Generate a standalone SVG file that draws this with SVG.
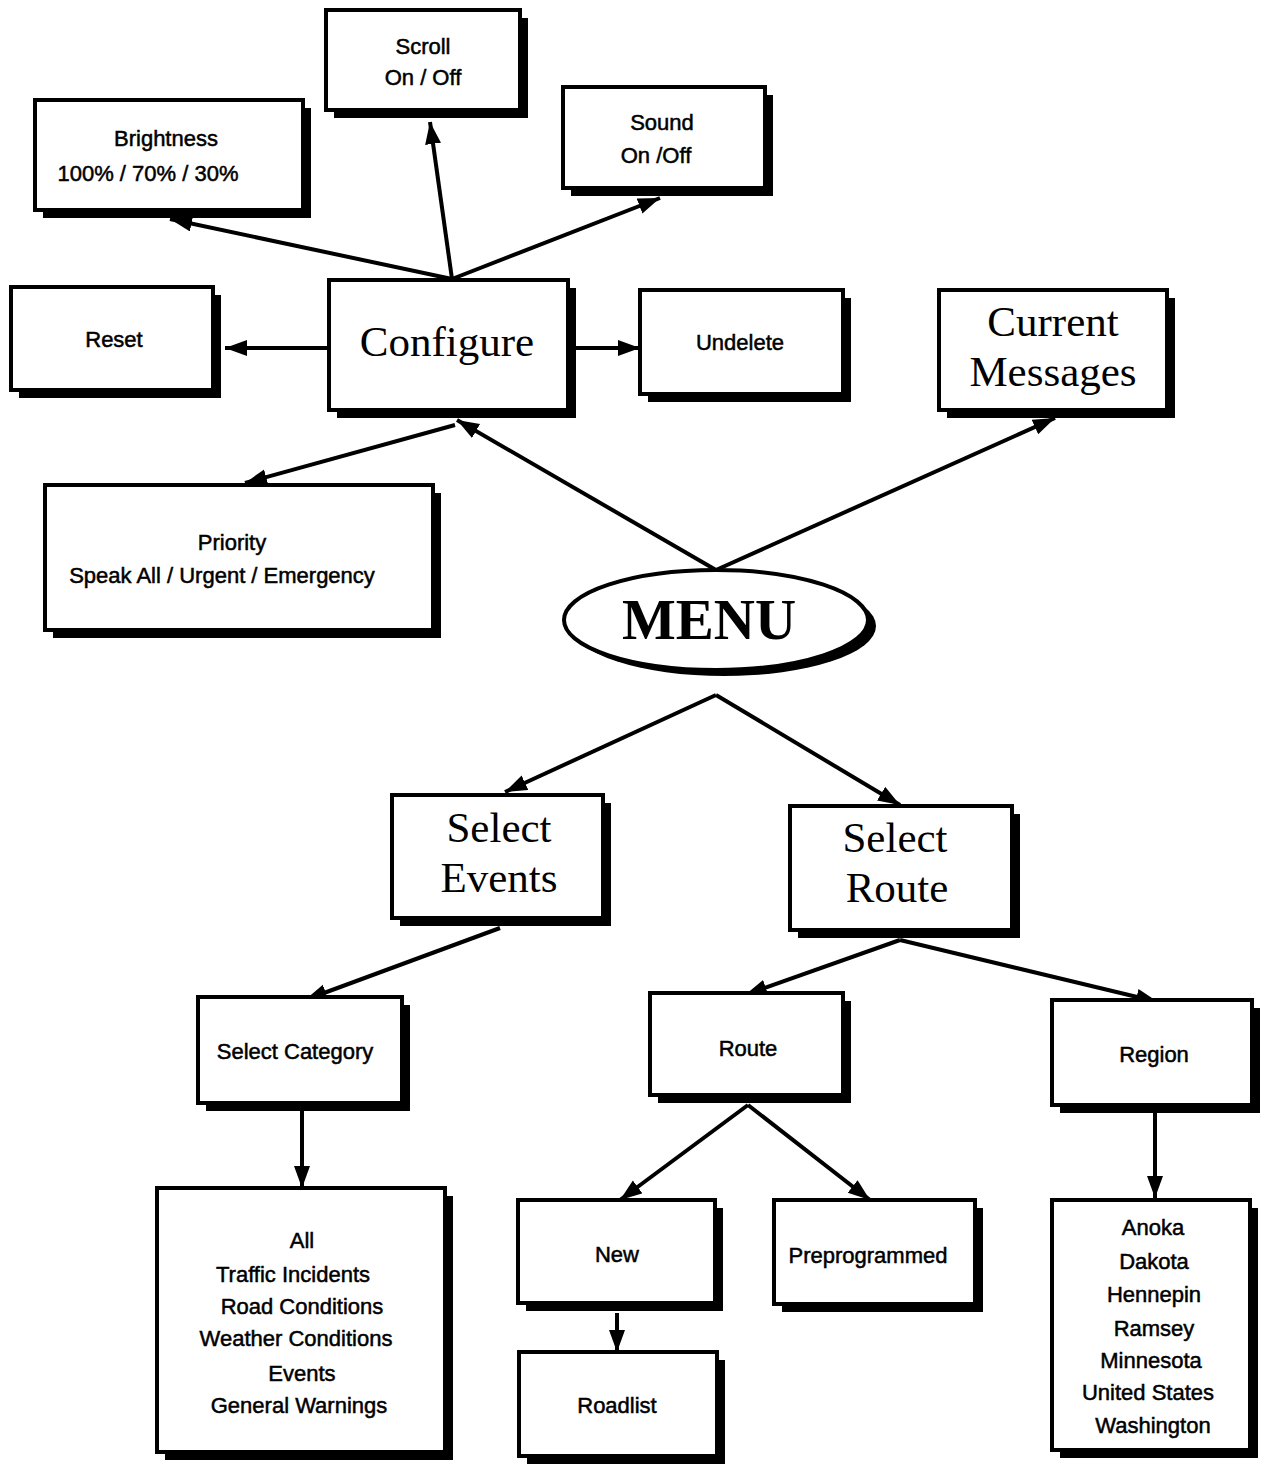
<svg xmlns="http://www.w3.org/2000/svg" width="1271" height="1464" viewBox="0 0 1271 1464">
<style>
.sh{fill:#000}
.bx{fill:#fff;stroke:#000;stroke-width:4}
.s{font-family:"Liberation Sans",Arial,sans-serif;font-size:22px;fill:#000;stroke:#000;stroke-width:0.5;text-anchor:middle}
.t{font-family:"Liberation Serif","Times New Roman",serif;font-size:43px;fill:#000;text-anchor:middle}
.c{stroke:#000;stroke-width:4;fill:none;marker-end:url(#ah)}
</style>
<defs>
<marker id="ah" markerUnits="userSpaceOnUse" markerWidth="26" markerHeight="20" refX="22" refY="8" orient="auto">
<path d="M0,0 L22,8 L0,16 z" fill="#000"/>
</marker>
</defs>
<rect width="1271" height="1464" fill="#fff"/>
<g id="connectors">
<line class="c" x1="452" y1="279" x2="170" y2="219"/>
<line class="c" x1="452" y1="279" x2="430" y2="122"/>
<line class="c" x1="452" y1="279" x2="660" y2="198"/>
<line class="c" x1="329" y1="348" x2="225" y2="348"/>
<line class="c" x1="576" y1="348" x2="640" y2="348"/>
<line class="c" x1="455" y1="425" x2="245" y2="483"/>
<line class="c" x1="716" y1="570" x2="457" y2="420"/>
<line class="c" x1="716" y1="570" x2="1055" y2="418"/>
<line class="c" x1="716" y1="695" x2="505" y2="792"/>
<line class="c" x1="716" y1="695" x2="900" y2="805"/>
<line class="c" x1="500" y1="928" x2="305" y2="1000"/>
<line class="c" x1="900" y1="940" x2="745" y2="995"/>
<line class="c" x1="900" y1="940" x2="1158" y2="1002"/>
<line class="c" x1="302" y1="1110" x2="302" y2="1188"/>
<line class="c" x1="748" y1="1105" x2="620" y2="1200"/>
<line class="c" x1="748" y1="1105" x2="870" y2="1200"/>
<line class="c" x1="617" y1="1313" x2="617" y2="1352"/>
<line class="c" x1="1155" y1="1110" x2="1155" y2="1198"/>
</g>
<g id="scroll"><rect class="sh" x="334" y="18" width="194" height="100"/><rect class="bx" x="326" y="10" width="194" height="100"/><text class="s" x="423" y="54">Scroll</text><text class="s" x="423" y="85">On / Off</text></g>
<g id="brightness"><rect class="sh" x="43" y="108" width="268" height="110"/><rect class="bx" x="35" y="100" width="268" height="110"/><text class="s" x="166" y="146">Brightness</text><text class="s" x="148" y="181">100% / 70% / 30%</text></g>
<g id="sound"><rect class="sh" x="571" y="95" width="202" height="101"/><rect class="bx" x="563" y="87" width="202" height="101"/><text class="s" x="662" y="130">Sound</text><text class="s" x="656" y="163">On /Off</text></g>
<g id="reset"><rect class="sh" x="19" y="295" width="202" height="103"/><rect class="bx" x="11" y="287" width="202" height="103"/><text class="s" x="114" y="347">Reset</text></g>
<g id="configure"><rect class="sh" x="337" y="288" width="239" height="130"/><rect class="bx" x="329" y="280" width="239" height="130"/><text class="t" x="447" y="356">Configure</text></g>
<g id="undelete"><rect class="sh" x="648" y="298" width="203" height="104"/><rect class="bx" x="640" y="290" width="203" height="104"/><text class="s" x="740" y="350">Undelete</text></g>
<g id="current-messages"><rect class="sh" x="947" y="298" width="228" height="120"/><rect class="bx" x="939" y="290" width="228" height="120"/><text class="t" x="1053" y="336">Current</text><text class="t" x="1053" y="386">Messages</text></g>
<g id="priority"><rect class="sh" x="53" y="493" width="388" height="145"/><rect class="bx" x="45" y="485" width="388" height="145"/><text class="s" x="232" y="550">Priority</text><text class="s" x="222" y="583">Speak All / Urgent / Emergency</text></g>
<g id="menu"><ellipse class="sh" cx="724" cy="626" rx="152" ry="50"/><ellipse class="bx" cx="716" cy="620" rx="152" ry="50"/><text x="709" y="639" font-family="Liberation Serif,'Times New Roman',serif" font-size="57" font-weight="bold" text-anchor="middle">MENU</text></g>
<g id="select-events"><rect class="sh" x="400" y="803" width="211" height="123"/><rect class="bx" x="392" y="795" width="211" height="123"/><text class="t" x="499" y="842">Select</text><text class="t" x="499" y="892">Events</text></g>
<g id="select-route"><rect class="sh" x="798" y="814" width="222" height="124"/><rect class="bx" x="790" y="806" width="222" height="124"/><text class="t" x="895" y="852">Select</text><text class="t" x="897" y="902">Route</text></g>
<g id="select-category"><rect class="sh" x="206" y="1005" width="204" height="106"/><rect class="bx" x="198" y="997" width="204" height="106"/><text class="s" x="295" y="1059">Select Category</text></g>
<g id="route"><rect class="sh" x="658" y="1001" width="193" height="102"/><rect class="bx" x="650" y="993" width="193" height="102"/><text class="s" x="748" y="1056">Route</text></g>
<g id="region"><rect class="sh" x="1060" y="1008" width="200" height="105"/><rect class="bx" x="1052" y="1000" width="200" height="105"/><text class="s" x="1154" y="1062">Region</text></g>
<g id="categories"><rect class="sh" x="165" y="1196" width="288" height="264"/><rect class="bx" x="157" y="1188" width="288" height="264"/>
<text class="s" x="302" y="1248">All</text><text class="s" x="293" y="1282">Traffic Incidents</text><text class="s" x="302" y="1314">Road Conditions</text><text class="s" x="296" y="1346">Weather Conditions</text><text class="s" x="302" y="1381">Events</text><text class="s" x="299" y="1413">General Warnings</text></g>
<g id="new"><rect class="sh" x="526" y="1208" width="197" height="103"/><rect class="bx" x="518" y="1200" width="197" height="103"/><text class="s" x="617" y="1262">New</text></g>
<g id="preprogrammed"><rect class="sh" x="782" y="1208" width="201" height="104"/><rect class="bx" x="774" y="1200" width="201" height="104"/><text class="s" x="868" y="1263">Preprogrammed</text></g>
<g id="roadlist"><rect class="sh" x="527" y="1360" width="198" height="104"/><rect class="bx" x="519" y="1352" width="198" height="104"/><text class="s" x="617" y="1413">Roadlist</text></g>
<g id="regions"><rect class="sh" x="1060" y="1208" width="198" height="250"/><rect class="bx" x="1052" y="1200" width="198" height="250"/>
<text class="s" x="1153" y="1235">Anoka</text><text class="s" x="1154" y="1269">Dakota</text><text class="s" x="1154" y="1302">Hennepin</text><text class="s" x="1154" y="1336">Ramsey</text><text class="s" x="1151" y="1368">Minnesota</text><text class="s" x="1148" y="1400">United States</text><text class="s" x="1153" y="1433">Washington</text></g>
</svg>
